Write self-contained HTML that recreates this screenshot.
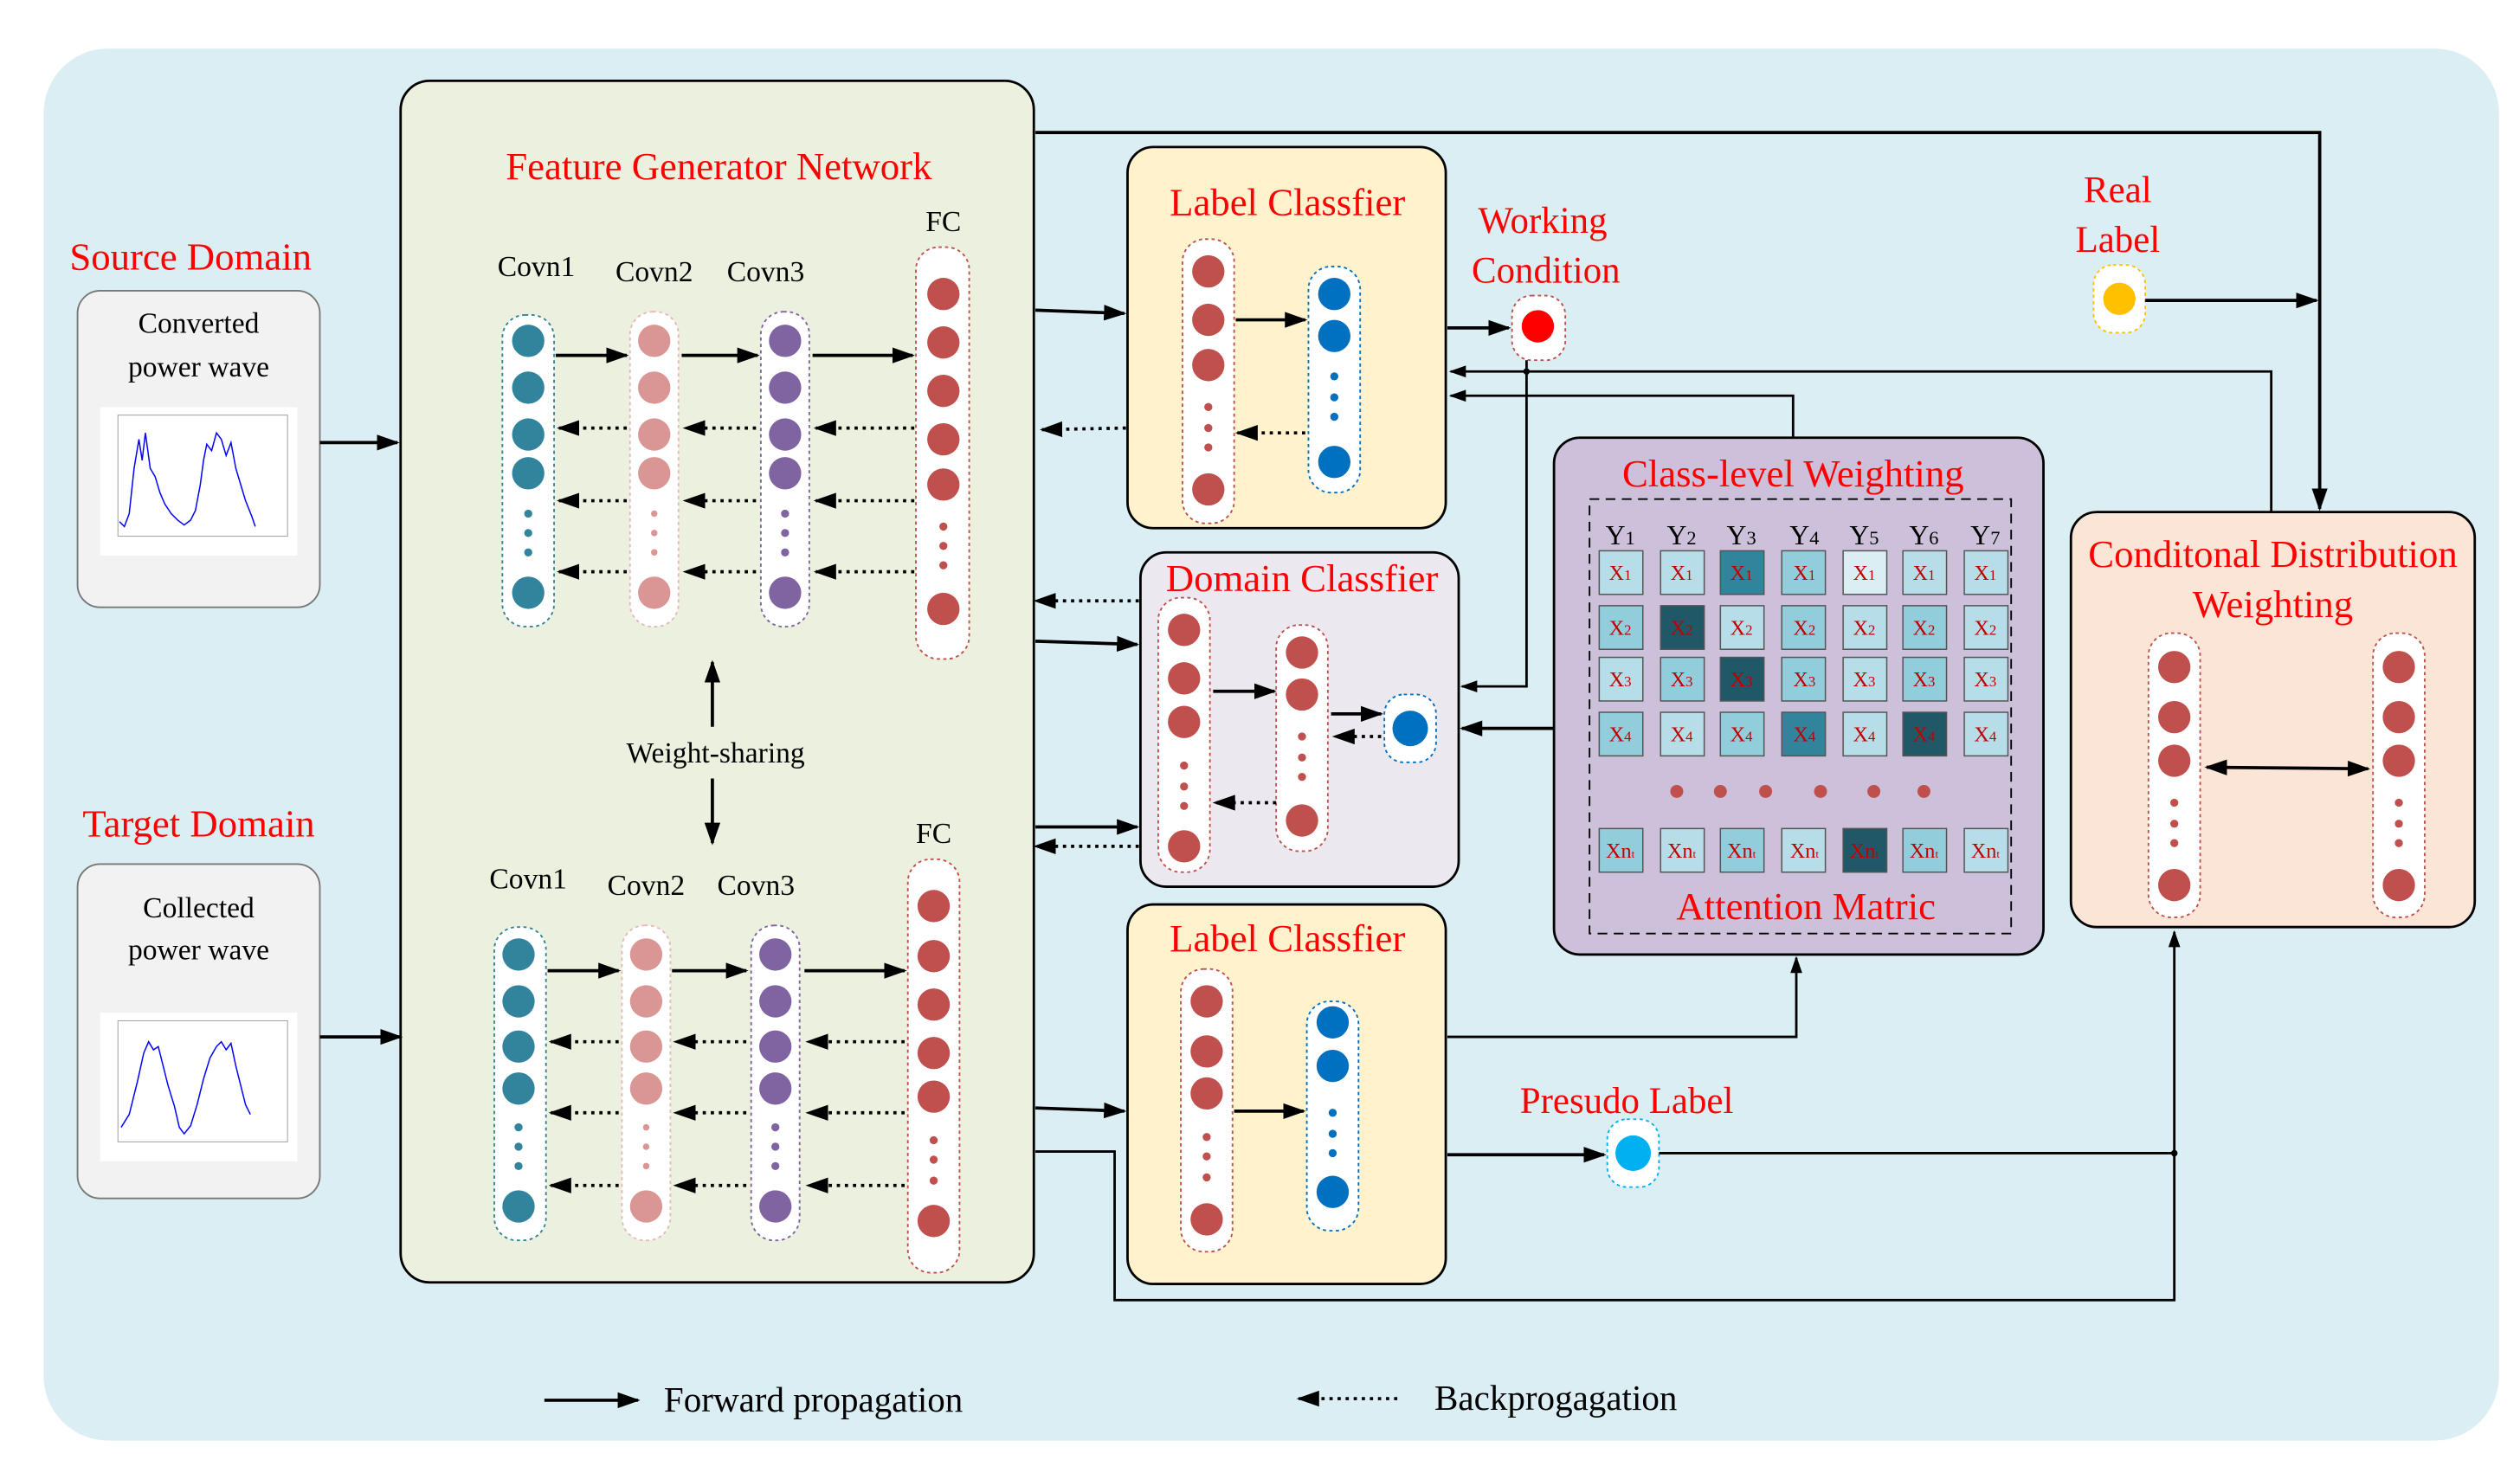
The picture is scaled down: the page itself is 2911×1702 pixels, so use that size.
<!DOCTYPE html>
<html><head><meta charset="utf-8"><style>
html,body{margin:0;padding:0;background:#fff}
svg{display:block}
svg text{font-family:"Liberation Serif","Times New Roman",serif}
</style></head><body>
<svg width="2911" height="1702" viewBox="0 0 1560 912" xmlns="http://www.w3.org/2000/svg" font-family="Liberation Serif, serif">
<defs>
<marker id="a" viewBox="0 0 10 10" refX="9" refY="5" markerWidth="7" markerHeight="7" orient="auto-start-reverse"><path d="M0,1.5 L10,5 L0,8.5 z" fill="#000"/></marker>
</defs>
<rect x="27" y="30" width="1520" height="862" rx="40" fill="#dbeef3"/>
<rect x="248" y="50" width="392" height="744" rx="18" fill="#ebf1de" stroke="#000" stroke-width="1.5"/>
<text x="445" y="111" font-size="24" fill="#f00" text-anchor="middle">Feature Generator Network</text>
<text x="118" y="167" font-size="24" fill="#f00" text-anchor="middle">Source Domain</text>
<rect x="48" y="180" width="150" height="196" rx="14" fill="#f2f2f2" stroke="#777"/>
<text x="123" y="206" font-size="18" text-anchor="middle">Converted</text>
<text x="123" y="233" font-size="18" text-anchor="middle">power wave</text>
<rect x="62" y="252" width="122" height="92" fill="#fff"/>
<rect x="73" y="257" width="105" height="75" fill="none" stroke="#999" stroke-width="0.5"/>
<polyline points="74,323 77,326 80,318 83,290 86,272 88,285 90,268 93,290 96,295 99,305 102,312 106,318 110,322 114,325 118,322 121,316 124,300 126,285 128,275 131,279 134,268 137,272 140,282 143,274 146,290 149,300 152,310 156,320 158,326" fill="none" stroke="#00f" stroke-width="0.8"/>
<text x="123" y="518" font-size="24" fill="#f00" text-anchor="middle">Target Domain</text>
<rect x="48" y="535" width="150" height="207" rx="14" fill="#f2f2f2" stroke="#777"/>
<text x="123" y="568" font-size="18" text-anchor="middle">Collected</text>
<text x="123" y="594" font-size="18" text-anchor="middle">power wave</text>
<rect x="62" y="627" width="122" height="92" fill="#fff"/>
<rect x="73" y="632" width="105" height="75" fill="none" stroke="#999" stroke-width="0.5"/>
<polyline points="75,698 80,690 85,670 89,652 92,645 95,650 98,648 101,660 104,672 108,685 111,698 114,702 118,697 122,684 126,668 130,655 134,648 137,645 140,650 143,646 146,660 149,672 152,684 155,690" fill="none" stroke="#00f" stroke-width="0.8"/>
<line x1="198" y1="274" x2="246" y2="274" stroke="#000" stroke-width="2" marker-end="url(#a)"/>
<line x1="198" y1="642" x2="248" y2="642" stroke="#000" stroke-width="2" marker-end="url(#a)"/>

<g font-size="18" text-anchor="middle">
<text x="332" y="171">Covn1</text><text x="405" y="174">Covn2</text><text x="474" y="174">Covn3</text><text x="584" y="143">FC</text>
<text x="327" y="550">Covn1</text><text x="400" y="554">Covn2</text><text x="468" y="554">Covn3</text><text x="578" y="522">FC</text>
</g>
<g stroke-dasharray="2,2" stroke-width="1" fill="#fff">
<rect x="311" y="195" width="32" height="193" rx="14" stroke="#31849b"/>
<rect x="390" y="193" width="30" height="195" rx="14" stroke="#e6b9b8"/>
<rect x="471" y="193" width="30" height="195" rx="14" stroke="#8064a2"/>
<rect x="567" y="153" width="33" height="255" rx="14" stroke="#c0504d"/>
<rect x="306" y="574" width="32" height="194" rx="14" stroke="#31849b"/>
<rect x="385" y="573" width="30" height="195" rx="14" stroke="#e6b9b8"/>
<rect x="465" y="573" width="30" height="195" rx="14" stroke="#8064a2"/>
<rect x="562" y="532" width="32" height="256" rx="14" stroke="#c0504d"/>
</g>
<g fill="#31849b"><circle cx="327" cy="211" r="10"/><circle cx="327" cy="240" r="10"/><circle cx="327" cy="269" r="10"/><circle cx="327" cy="293" r="10"/><circle cx="327" cy="318" r="2.5"/><circle cx="327" cy="330" r="2.5"/><circle cx="327" cy="342" r="2.5"/><circle cx="327" cy="367" r="10"/></g>
<g fill="#d99694"><circle cx="405" cy="211" r="10"/><circle cx="405" cy="240" r="10"/><circle cx="405" cy="269" r="10"/><circle cx="405" cy="293" r="10"/><circle cx="405" cy="318" r="2"/><circle cx="405" cy="330" r="2"/><circle cx="405" cy="342" r="2"/><circle cx="405" cy="367" r="10"/></g>
<g fill="#8064a2"><circle cx="486" cy="211" r="10"/><circle cx="486" cy="240" r="10"/><circle cx="486" cy="269" r="10"/><circle cx="486" cy="293" r="10"/><circle cx="486" cy="318" r="2.5"/><circle cx="486" cy="330" r="2.5"/><circle cx="486" cy="342" r="2.5"/><circle cx="486" cy="367" r="10"/></g>
<g fill="#c0504d"><circle cx="584" cy="182" r="10"/><circle cx="584" cy="212" r="10"/><circle cx="584" cy="242" r="10"/><circle cx="584" cy="272" r="10"/><circle cx="584" cy="300" r="10"/><circle cx="584" cy="326" r="2.5"/><circle cx="584" cy="338" r="2.5"/><circle cx="584" cy="350" r="2.5"/><circle cx="584" cy="377" r="10"/></g>
<g fill="#31849b"><circle cx="321" cy="591" r="10"/><circle cx="321" cy="620" r="10"/><circle cx="321" cy="648" r="10"/><circle cx="321" cy="674" r="10"/><circle cx="321" cy="698" r="2.5"/><circle cx="321" cy="710" r="2.5"/><circle cx="321" cy="722" r="2.5"/><circle cx="321" cy="747" r="10"/></g>
<g fill="#d99694"><circle cx="400" cy="591" r="10"/><circle cx="400" cy="620" r="10"/><circle cx="400" cy="648" r="10"/><circle cx="400" cy="674" r="10"/><circle cx="400" cy="698" r="2"/><circle cx="400" cy="710" r="2"/><circle cx="400" cy="722" r="2"/><circle cx="400" cy="747" r="10"/></g>
<g fill="#8064a2"><circle cx="480" cy="591" r="10"/><circle cx="480" cy="620" r="10"/><circle cx="480" cy="648" r="10"/><circle cx="480" cy="674" r="10"/><circle cx="480" cy="698" r="2.5"/><circle cx="480" cy="710" r="2.5"/><circle cx="480" cy="722" r="2.5"/><circle cx="480" cy="747" r="10"/></g>
<g fill="#c0504d"><circle cx="578" cy="561" r="10"/><circle cx="578" cy="592" r="10"/><circle cx="578" cy="622" r="10"/><circle cx="578" cy="652" r="10"/><circle cx="578" cy="679" r="10"/><circle cx="578" cy="706" r="2.5"/><circle cx="578" cy="718" r="2.5"/><circle cx="578" cy="731" r="2.5"/><circle cx="578" cy="756" r="10"/></g>
<g stroke="#000" stroke-width="2" marker-end="url(#a)">
<line x1="344" y1="220" x2="388" y2="220"/><line x1="422" y1="220" x2="469" y2="220"/><line x1="503" y1="220" x2="565" y2="220"/>
<line x1="339" y1="601" x2="383" y2="601"/><line x1="416" y1="601" x2="462" y2="601"/><line x1="498" y1="601" x2="560" y2="601"/>
<line x1="441" y1="450" x2="441" y2="410"/><line x1="441" y1="482" x2="441" y2="522"/>
</g>
<g stroke="#000" stroke-width="2" stroke-dasharray="2,3" marker-end="url(#a)">
<line x1="388" y1="265" x2="346" y2="265"/><line x1="468" y1="265" x2="424" y2="265"/><line x1="566" y1="265" x2="505" y2="265"/>
<line x1="388" y1="310" x2="346" y2="310"/><line x1="468" y1="310" x2="424" y2="310"/><line x1="566" y1="310" x2="505" y2="310"/>
<line x1="388" y1="354" x2="346" y2="354"/><line x1="468" y1="354" x2="424" y2="354"/><line x1="566" y1="354" x2="505" y2="354"/>
<line x1="383" y1="645" x2="341" y2="645"/><line x1="462" y1="645" x2="418" y2="645"/><line x1="560" y1="645" x2="500" y2="645"/>
<line x1="383" y1="689" x2="341" y2="689"/><line x1="462" y1="689" x2="418" y2="689"/><line x1="560" y1="689" x2="500" y2="689"/>
<line x1="383" y1="734" x2="341" y2="734"/><line x1="462" y1="734" x2="418" y2="734"/><line x1="560" y1="734" x2="500" y2="734"/>
</g>
<text x="443" y="472" font-size="18" text-anchor="middle">Weight-sharing</text>

<rect x="698" y="91" width="197" height="236" rx="16" fill="#fff2cc" stroke="#000" stroke-width="1.5"/>
<text x="797" y="133" font-size="24" fill="#f00" text-anchor="middle">Label Classfier</text>
<rect x="732" y="148" width="32" height="176" rx="14" fill="#fff" stroke="#c0504d" stroke-dasharray="2,2"/>
<rect x="810" y="165" width="32" height="140" rx="14" fill="#fff" stroke="#0070c0" stroke-dasharray="2,2"/>
<g fill="#c0504d"><circle cx="748" cy="168" r="10"/><circle cx="748" cy="198" r="10"/><circle cx="748" cy="226" r="10"/><circle cx="748" cy="252" r="2.5"/><circle cx="748" cy="265" r="2.5"/><circle cx="748" cy="277" r="2.5"/><circle cx="748" cy="303" r="10"/></g>
<g fill="#0070c0"><circle cx="826" cy="182" r="10"/><circle cx="826" cy="208" r="10"/><circle cx="826" cy="233" r="2.5"/><circle cx="826" cy="246" r="2.5"/><circle cx="826" cy="258" r="2.5"/><circle cx="826" cy="286" r="10"/></g>

<rect x="706" y="342" width="197" height="207" rx="16" fill="#ece8f0" stroke="#000" stroke-width="1.5"/>
<text x="806" y="366" font-size="24" fill="#f00" text-anchor="middle">Domain Classfier</text>
<rect x="717" y="370" width="32" height="170" rx="14" fill="#fff" stroke="#c0504d" stroke-dasharray="2,2"/>
<rect x="790" y="387" width="32" height="140" rx="14" fill="#fff" stroke="#c0504d" stroke-dasharray="2,2"/>
<rect x="857" y="430" width="32" height="42" rx="12" fill="#fff" stroke="#0070c0" stroke-dasharray="2,2"/>
<circle cx="873" cy="451" r="11" fill="#0070c0"/>
<g fill="#c0504d"><circle cx="733" cy="390" r="10"/><circle cx="733" cy="420" r="10"/><circle cx="733" cy="447" r="10"/><circle cx="733" cy="474" r="2.5"/><circle cx="733" cy="487" r="2.5"/><circle cx="733" cy="499" r="2.5"/><circle cx="733" cy="524" r="10"/>
<circle cx="806" cy="404" r="10"/><circle cx="806" cy="430" r="10"/><circle cx="806" cy="456" r="2.5"/><circle cx="806" cy="469" r="2.5"/><circle cx="806" cy="481" r="2.5"/><circle cx="806" cy="508" r="10"/></g>

<rect x="698" y="560" width="197" height="235" rx="16" fill="#fff2cc" stroke="#000" stroke-width="1.5"/>
<text x="797" y="589" font-size="24" fill="#f00" text-anchor="middle">Label Classfier</text>
<rect x="731" y="600" width="32" height="175" rx="14" fill="#fff" stroke="#c0504d" stroke-dasharray="2,2"/>
<rect x="809" y="620" width="32" height="142" rx="14" fill="#fff" stroke="#0070c0" stroke-dasharray="2,2"/>
<g fill="#c0504d"><circle cx="747" cy="620" r="10"/><circle cx="747" cy="651" r="10"/><circle cx="747" cy="677" r="10"/><circle cx="747" cy="704" r="2.5"/><circle cx="747" cy="716" r="2.5"/><circle cx="747" cy="729" r="2.5"/><circle cx="747" cy="755" r="10"/></g>
<g fill="#0070c0"><circle cx="825" cy="633" r="10"/><circle cx="825" cy="660" r="10"/><circle cx="825" cy="689" r="2.5"/><circle cx="825" cy="702" r="2.5"/><circle cx="825" cy="714" r="2.5"/><circle cx="825" cy="738" r="10"/></g>

<text x="955" y="144" font-size="23" fill="#f00" text-anchor="middle">Working</text>
<text x="957" y="175" font-size="23" fill="#f00" text-anchor="middle">Condition</text>
<rect x="936" y="183" width="33" height="40" rx="12" fill="#fff" stroke="#c0504d" stroke-dasharray="2,2"/>
<circle cx="952" cy="202" r="10" fill="#f00"/>
<text x="1311" y="125" font-size="23" fill="#f00" text-anchor="middle">Real</text>
<text x="1311" y="156" font-size="23" fill="#f00" text-anchor="middle">Label</text>
<rect x="1296" y="164" width="32" height="42" rx="12" fill="#fff" stroke="#ffc000" stroke-dasharray="2,2"/>
<circle cx="1312" cy="185" r="10" fill="#ffc000"/>
<text x="1007" y="689" font-size="23" fill="#f00" text-anchor="middle">Presudo Label</text>
<rect x="995" y="693" width="32" height="42" rx="12" fill="#fff" stroke="#00b0f0" stroke-dasharray="2,2"/>
<circle cx="1011" cy="714" r="11" fill="#00b0f0"/>

<rect x="962" y="271" width="303" height="320" rx="16" fill="#ccc0da" stroke="#000" stroke-width="1.5"/>
<text x="1110" y="301" font-size="24" fill="#f00" text-anchor="middle">Class-level Weighting</text>
<rect x="984" y="309" width="261" height="269" fill="none" stroke="#000" stroke-dasharray="6,4"/>
<g font-size="17" text-anchor="middle">
<text x="1003" y="337">Y<tspan font-size="12">1</tspan></text><text x="1041" y="337">Y<tspan font-size="12">2</tspan></text><text x="1078" y="337">Y<tspan font-size="12">3</tspan></text><text x="1117" y="337">Y<tspan font-size="12">4</tspan></text><text x="1154" y="337">Y<tspan font-size="12">5</tspan></text><text x="1191" y="337">Y<tspan font-size="12">6</tspan></text><text x="1229" y="337">Y<tspan font-size="12">7</tspan></text>
</g>
<g stroke="#555" stroke-width="0.8">
<rect x="990" y="341" width="27" height="27" fill="#b7dde8"/><rect x="1028" y="341" width="27" height="27" fill="#b7dde8"/><rect x="1065" y="341" width="27" height="27" fill="#31849b"/><rect x="1103" y="341" width="27" height="27" fill="#92cddc"/><rect x="1141" y="341" width="27" height="27" fill="#daeef3"/><rect x="1178" y="341" width="27" height="27" fill="#b7dde8"/><rect x="1216" y="341" width="27" height="27" fill="#b7dde8"/>
<rect x="990" y="375" width="27" height="27" fill="#92cddc"/><rect x="1028" y="375" width="27" height="27" fill="#215868"/><rect x="1065" y="375" width="27" height="27" fill="#b7dde8"/><rect x="1103" y="375" width="27" height="27" fill="#92cddc"/><rect x="1141" y="375" width="27" height="27" fill="#b7dde8"/><rect x="1178" y="375" width="27" height="27" fill="#92cddc"/><rect x="1216" y="375" width="27" height="27" fill="#b7dde8"/>
<rect x="990" y="407" width="27" height="27" fill="#b7dde8"/><rect x="1028" y="407" width="27" height="27" fill="#92cddc"/><rect x="1065" y="407" width="27" height="27" fill="#215868"/><rect x="1103" y="407" width="27" height="27" fill="#92cddc"/><rect x="1141" y="407" width="27" height="27" fill="#b7dde8"/><rect x="1178" y="407" width="27" height="27" fill="#92cddc"/><rect x="1216" y="407" width="27" height="27" fill="#b7dde8"/>
<rect x="990" y="441" width="27" height="27" fill="#92cddc"/><rect x="1028" y="441" width="27" height="27" fill="#b7dde8"/><rect x="1065" y="441" width="27" height="27" fill="#92cddc"/><rect x="1103" y="441" width="27" height="27" fill="#31849b"/><rect x="1141" y="441" width="27" height="27" fill="#b7dde8"/><rect x="1178" y="441" width="27" height="27" fill="#215868"/><rect x="1216" y="441" width="27" height="27" fill="#b7dde8"/>
<rect x="990" y="513" width="27" height="27" fill="#92cddc"/><rect x="1028" y="513" width="27" height="27" fill="#b7dde8"/><rect x="1065" y="513" width="27" height="27" fill="#92cddc"/><rect x="1103" y="513" width="27" height="27" fill="#b7dde8"/><rect x="1141" y="513" width="27" height="27" fill="#215868"/><rect x="1178" y="513" width="27" height="27" fill="#92cddc"/><rect x="1216" y="513" width="27" height="27" fill="#b7dde8"/>
</g>
<g font-size="13" fill="#c00000" text-anchor="middle">
<g><text x="1003" y="359">X<tspan font-size="9">1</tspan></text><text x="1041" y="359">X<tspan font-size="9">1</tspan></text><text x="1078" y="359">X<tspan font-size="9">1</tspan></text><text x="1117" y="359">X<tspan font-size="9">1</tspan></text><text x="1154" y="359">X<tspan font-size="9">1</tspan></text><text x="1191" y="359">X<tspan font-size="9">1</tspan></text><text x="1229" y="359">X<tspan font-size="9">1</tspan></text></g>
<g><text x="1003" y="393">X<tspan font-size="9">2</tspan></text><text x="1041" y="393">X<tspan font-size="9">2</tspan></text><text x="1078" y="393">X<tspan font-size="9">2</tspan></text><text x="1117" y="393">X<tspan font-size="9">2</tspan></text><text x="1154" y="393">X<tspan font-size="9">2</tspan></text><text x="1191" y="393">X<tspan font-size="9">2</tspan></text><text x="1229" y="393">X<tspan font-size="9">2</tspan></text></g>
<g><text x="1003" y="425">X<tspan font-size="9">3</tspan></text><text x="1041" y="425">X<tspan font-size="9">3</tspan></text><text x="1078" y="425">X<tspan font-size="9">3</tspan></text><text x="1117" y="425">X<tspan font-size="9">3</tspan></text><text x="1154" y="425">X<tspan font-size="9">3</tspan></text><text x="1191" y="425">X<tspan font-size="9">3</tspan></text><text x="1229" y="425">X<tspan font-size="9">3</tspan></text></g>
<g><text x="1003" y="459">X<tspan font-size="9">4</tspan></text><text x="1041" y="459">X<tspan font-size="9">4</tspan></text><text x="1078" y="459">X<tspan font-size="9">4</tspan></text><text x="1117" y="459">X<tspan font-size="9">4</tspan></text><text x="1154" y="459">X<tspan font-size="9">4</tspan></text><text x="1191" y="459">X<tspan font-size="9">4</tspan></text><text x="1229" y="459">X<tspan font-size="9">4</tspan></text></g>
<g><text x="1003" y="531">Xn<tspan font-size="7">t</tspan></text><text x="1041" y="531">Xn<tspan font-size="7">t</tspan></text><text x="1078" y="531">Xn<tspan font-size="7">t</tspan></text><text x="1117" y="531">Xn<tspan font-size="7">t</tspan></text><text x="1154" y="531">Xn<tspan font-size="7">t</tspan></text><text x="1191" y="531">Xn<tspan font-size="7">t</tspan></text><text x="1229" y="531">Xn<tspan font-size="7">t</tspan></text></g>
</g>
<g fill="#c0504d"><circle cx="1038" cy="490" r="4"/><circle cx="1065" cy="490" r="4"/><circle cx="1093" cy="490" r="4"/><circle cx="1127" cy="490" r="4"/><circle cx="1160" cy="490" r="4"/><circle cx="1191" cy="490" r="4"/></g>
<text x="1118" y="569" font-size="24" fill="#f00" text-anchor="middle">Attention Matric</text>

<rect x="1282" y="317" width="250" height="257" rx="16" fill="#fbe5d6" stroke="#000" stroke-width="1.5"/>
<text x="1407" y="351" font-size="24" fill="#f00" text-anchor="middle">Conditonal Distribution</text>
<text x="1407" y="382" font-size="24" fill="#f00" text-anchor="middle">Weighting</text>
<rect x="1330" y="392" width="32" height="176" rx="14" fill="#fff" stroke="#c0504d" stroke-dasharray="2,2"/>
<rect x="1469" y="392" width="32" height="176" rx="14" fill="#fff" stroke="#c0504d" stroke-dasharray="2,2"/>
<g fill="#c0504d"><circle cx="1346" cy="413" r="10"/><circle cx="1346" cy="444" r="10"/><circle cx="1346" cy="471" r="10"/><circle cx="1346" cy="497" r="2.5"/><circle cx="1346" cy="510" r="2.5"/><circle cx="1346" cy="522" r="2.5"/><circle cx="1346" cy="548" r="10"/>
<circle cx="1485" cy="413" r="10"/><circle cx="1485" cy="444" r="10"/><circle cx="1485" cy="471" r="10"/><circle cx="1485" cy="497" r="2.5"/><circle cx="1485" cy="510" r="2.5"/><circle cx="1485" cy="522" r="2.5"/><circle cx="1485" cy="548" r="10"/></g>

<g stroke="#000" stroke-width="2" fill="none">
<line x1="641" y1="192" x2="696" y2="194" marker-end="url(#a)"/>
<line x1="641" y1="397" x2="704" y2="399" marker-end="url(#a)"/>
<line x1="641" y1="512" x2="704" y2="512" marker-end="url(#a)"/>
<line x1="641" y1="686" x2="696" y2="688" marker-end="url(#a)"/>
<line x1="765" y1="198" x2="808" y2="198" marker-end="url(#a)"/>
<line x1="751" y1="428" x2="789" y2="428" marker-end="url(#a)"/>
<line x1="824" y1="442" x2="855" y2="442" marker-end="url(#a)"/>
<line x1="764" y1="688" x2="807" y2="688" marker-end="url(#a)"/>
<line x1="896" y1="203" x2="934" y2="203" marker-end="url(#a)"/>
<line x1="896" y1="715" x2="993" y2="715" marker-end="url(#a)"/>
<line x1="1328" y1="186" x2="1434" y2="186" marker-end="url(#a)"/>
<polyline points="641,82 1436,82 1436,315" marker-end="url(#a)"/>
<polyline points="1110,271 1110,245 898,245" marker-end="url(#a)" stroke-width="1.5"/>
<polyline points="1406,317 1406,230 898,230" marker-end="url(#a)" stroke-width="1.5"/>
<polyline points="945,223 945,425 905,425" marker-end="url(#a)" stroke-width="1.5"/>
<line x1="962" y1="451" x2="905" y2="451" marker-end="url(#a)"/>
<polyline points="896,642 1112,642 1112,593" marker-end="url(#a)" stroke-width="1.5"/>
<line x1="1027" y1="714" x2="1346" y2="714" stroke-width="1.5"/>
<polyline points="641,713 690,713 690,805 1346,805 1346,577" marker-end="url(#a)" stroke-width="1.5"/>
<line x1="1366" y1="475" x2="1466" y2="476" marker-start="url(#a)" marker-end="url(#a)"/>
</g>
<circle cx="1346" cy="714" r="2" fill="#000"/>
<circle cx="945" cy="230" r="2" fill="#000"/>
<g stroke="#000" stroke-width="2" stroke-dasharray="2,3" marker-end="url(#a)">
<line x1="697" y1="265" x2="645" y2="266"/>
<line x1="808" y1="268" x2="766" y2="268"/>
<line x1="705" y1="372" x2="641" y2="372"/>
<line x1="705" y1="524" x2="641" y2="524"/>
<line x1="855" y1="456" x2="826" y2="456"/>
<line x1="790" y1="497" x2="752" y2="497"/>
</g>

<line x1="337" y1="867" x2="395" y2="867" stroke="#000" stroke-width="2" marker-end="url(#a)"/>
<text x="411" y="874" font-size="22">Forward propagation</text>
<line x1="865" y1="866" x2="804" y2="866" stroke="#000" stroke-width="2" stroke-dasharray="2,3" marker-end="url(#a)"/>
<text x="888" y="873" font-size="22">Backprogagation</text>
</svg>
</body></html>
